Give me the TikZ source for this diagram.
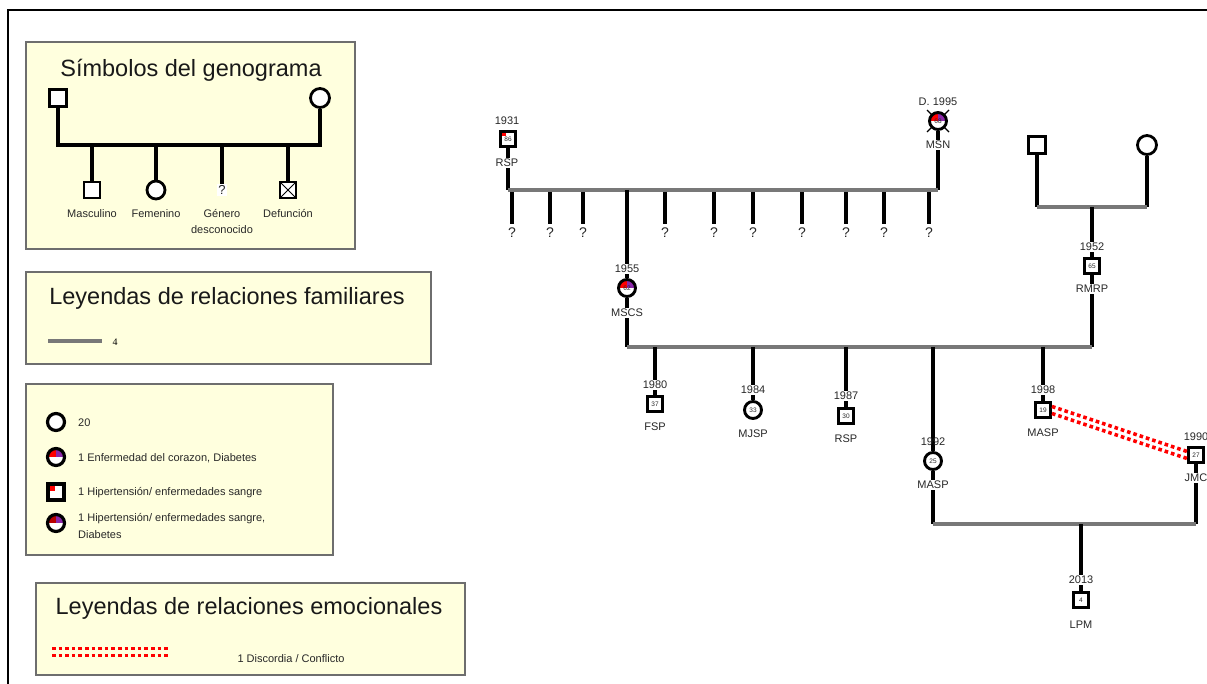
\documentclass[tikz,border=0pt]{standalone}
\usepackage{fontspec}
\setmainfont{Liberation Sans}
\newfontfamily\serifx{Liberation Serif}
\usetikzlibrary{backgrounds}
\definecolor{legbg}{RGB}{255,255,222}
\definecolor{legbd}{RGB}{110,110,110}
\definecolor{hgray}{RGB}{120,120,120}
\definecolor{dpurple}{RGB}{140,40,170}
\definecolor{dred}{RGB}{185,0,0}
\definecolor{txt}{RGB}{40,40,40}
\newcommand\myfs[1]{\fontsize{#1}{#1}\selectfont}
\begin{document}
\begin{tikzpicture}[x=1pt,y=-1pt,
  lbox/.style={draw=legbd, fill=legbg, line width=1.4},
  ttl/.style={font=\myfs{23.5}, inner sep=0, text=black!90},
  lbl/.style={font=\myfs{11}, inner sep=1, text=txt},
  yl/.style={font=\myfs{11}, inner sep=1, fill=white, text=txt},
  kline/.style={line width=3.2, black},
  hline/.style={line width=3.4, hgray},
  pm/.style={draw, line width=2.9, fill=white, minimum size=15, inner sep=0, font=\myfs{6.5}, text=txt},
  pf/.style={pm, circle, minimum size=17},
  lm/.style={draw, line width=2.8, fill=white, minimum size=17, inner sep=0},
  lf/.style={lm, circle, minimum size=19},
  heartdia/.style={path picture={
     \fill[red] (path picture bounding box.north west) rectangle (path picture bounding box.center);
     \fill[dpurple] (path picture bounding box.north) rectangle (path picture bounding box.east);}},
  hyperdia/.style={path picture={
     \fill[dred] (path picture bounding box.north west) rectangle (path picture bounding box.center);
     \fill[dpurple] (path picture bounding box.north) rectangle (path picture bounding box.east);}},
  hyper/.style={path picture={
     \fill[red] (path picture bounding box.north west) rectangle ([xshift=7pt,yshift=-7pt]path picture bounding box.north west);}},
  hyperS/.style={path picture={
     \fill[red] (path picture bounding box.north west) rectangle ([xshift=5pt,yshift=-5pt]path picture bounding box.north west);}},
  conflict/.style={red, line width=3.6, dash pattern=on 3.6pt off 3pt},
]
\useasboundingbox (0,0) rectangle (1207,684);

% ---------- boxes (background) ----------
\begin{scope}[on background layer]
  \fill[white] (0,0) rectangle (1207,684);
  \draw[line width=1.4] (8,690) -- (8,10) -- (1215,10);
  \draw[lbox] (26,42) rectangle (355,249);
  \draw[lbox] (26,272) rectangle (431,364);
  \draw[lbox] (26,384) rectangle (333,555);
  \draw[lbox] (36,583) rectangle (465,675);
\end{scope}

% ---------- legend 1 ----------
\node[ttl] (t1) at (191,70) {Símbolos del genograma};
\node[lm] (s1) at (58,98) {};
\node[lf] (s2) at (320,98) {};
\coordinate (sm) at (189,145);
\node[lm, minimum size=16] (c1) at (92,190) {};
\node[lf, minimum size=18] (c2) at (156,190) {};
\node[font=\myfs{13}, fill=white, inner sep=1.5, text=txt] (c3) at (222,190) {?};
\node[lm, minimum size=16, path picture={
  \draw[line width=1] (path picture bounding box.north west) -- (path picture bounding box.south east);
  \draw[line width=1] (path picture bounding box.north east) -- (path picture bounding box.south west);}] (c4) at (288,190) {};
\node[lbl] (c1l) at (92,214) {Masculino};
\node[lbl] (c2l) at (156,214) {Femenino};
\node[lbl, align=center, font=\fontsize{11}{16}\selectfont] (c3l) at (222,222) {Género\\desconocido};
\node[lbl] (c4l) at (288,214) {Defunción};

% ---------- legend 2 ----------
\node[ttl] (t2) at (227,298) {Leyendas de relaciones familiares};
\coordinate (fl1) at (48,341);
\coordinate (fl2) at (102,341);
\node[font=\serifx\myfs{10}, inner sep=1] (fl) at (115,342) {4};

% ---------- legend 3 ----------
\node[lm, circle, minimum size=17, line width=3.2] (i1) at (56,422) {};
\node[lbl, anchor=west] (i1l) at (77,423) {20};
\node[lm, circle, minimum size=17, line width=3.2, heartdia] (i2) at (56,457) {};
\node[lbl, anchor=west] (i2l) at (77,458) {1 Enfermedad del corazon, Diabetes};
\node[lm, minimum size=16, line width=3.2, hyper] (i3) at (56,492) {};
\node[lbl, anchor=west] (i3l) at (77,493) {1 Hipertensión/ enfermedades sangre};
\node[lm, circle, minimum size=17, line width=3.2, hyperdia] (i4) at (56,523) {};
\node[lbl, anchor=west, align=left, font=\fontsize{11}{17}\selectfont] (i4l) at (77,526) {1 Hipertensión/ enfermedades sangre,\\Diabetes};

% ---------- legend 4 ----------
\node[ttl] (t4) at (249,608) {Leyendas de relaciones emocionales};
\coordinate (el1) at (52,648);
\coordinate (el2) at (170,648);
\node[lbl, font=\myfs{11}] (el) at (291,659) {1 Discordia / Conflicto};

% ---------- genogram: persons ----------
\node[pm, hyperS] (rsp1) at (508,139) {86};
\node[yl] (rsp1y) at (507,121) {1931};
\node[yl] (rsp1n) at (507,163) {RSP};

\node[pf, heartdia] (msn) at (938,121) {68};
\node[yl] (msny) at (938,102) {D. 1995};
\node[yl] (msnn) at (938,145) {MSN};

\coordinate (m1) at (723,190);
\foreach \i/\x in {1/512,2/550,3/583,4/665,5/714,6/753,7/802,8/846,9/884,10/929}{
  \node[font=\myfs{14}, inner sep=1, fill=white, text=txt] (u\i) at (\x,233) {?};
}

\node[pf, heartdia] (mscs) at (627,288) {62};
\node[yl] (mscsy) at (627,269) {1955};
\node[yl] (mscsn) at (627,313) {MSCS};

\node[lm] (gf) at (1037,145) {};
\node[lf] (gm) at (1147,145) {};
\coordinate (m3) at (1092,207);

\node[pm] (rmrp) at (1092,266) {65};
\node[yl] (rmrpy) at (1092,247) {1952};
\node[yl] (rmrpn) at (1092,289) {RMRP};

\coordinate (m2) at (860,347);

\node[pm] (fsp) at (655,404) {37};
\node[yl] (fspy) at (655,385) {1980};
\node[yl] (fspn) at (655,427) {FSP};

\node[pf] (mjsp) at (753,410) {33};
\node[yl] (mjspy) at (753,390) {1984};
\node[yl] (mjspn) at (753,434) {MJSP};

\node[pm] (rsp2) at (846,416) {30};
\node[yl] (rsp2y) at (846,396) {1987};
\node[yl] (rsp2n) at (846,439) {RSP};

\node[pf] (masp1) at (933,461) {25};
\node[lbl] (masp1y) at (933,442) {1992};
\node[yl] (masp1n) at (933,485) {MASP};

\node[pm] (masp2) at (1043,410) {19};
\node[yl] (masp2y) at (1043,390) {1998};
\node[yl] (masp2n) at (1043,433) {MASP};

\node[pm] (jmc) at (1196,455) {27};
\node[yl] (jmcy) at (1196,437) {1990};
\node[yl] (jmcn) at (1196,478) {JMC};

\coordinate (m4) at (1065,524);

\node[pm] (lpm) at (1081,600) {4};
\node[yl] (lpmy) at (1081,580) {2013};
\node[yl] (lpmn) at (1081,625) {LPM};

% ---------- lines (behind nodes) ----------
\begin{scope}[on background layer]
  % legend 1
  \draw[kline] (s1) -- (s1|-sm) -- (s2|-sm) -- (s2);
  \foreach \c in {c1,c2,c3,c4} \draw[kline] (\c|-sm) -- (\c);
  % legend 2 and 4
  \draw[hline] (fl1) -- (fl2);
  \draw[conflict] ([yshift=-0.5pt]el1) -- ([yshift=-0.5pt]el2);
  \draw[conflict] ([yshift=-7.5pt]el1) -- ([yshift=-7.5pt]el2);
  % deceased cross
  \draw[line width=1.1, black] ([shift={(-11pt,11pt)}]msn.center) -- ([shift={(11pt,-11pt)}]msn.center);
  \draw[line width=1.1, black] ([shift={(11pt,11pt)}]msn.center) -- ([shift={(-11pt,-11pt)}]msn.center);
  % couple 1
  \draw[kline] (rsp1) -- (rsp1|-m1);
  \draw[kline] (msn) -- (msn|-m1);
  \draw[hline] (rsp1|-m1) -- (msn|-m1);
  \foreach \i in {1,...,10} \draw[kline] ([yshift=-2pt]u\i|-m1) -- ([yshift=3pt]u\i.north);
  \draw[kline] (mscs|-m1) -- (mscs);
  % couple 0
  \draw[kline] (gf) -- (gf|-m3);
  \draw[kline] (gm) -- (gm|-m3);
  \draw[hline] (gf|-m3) -- (gm|-m3);
  \draw[kline] (m3) -- (rmrp);
  % couple 2
  \draw[kline] (mscs) -- (mscs|-m2);
  \draw[kline] (rmrp) -- (rmrp|-m2);
  \draw[hline] (mscs|-m2) -- (rmrp|-m2);
  \foreach \p in {fsp,mjsp,rsp2,masp1,masp2} \draw[kline] (\p|-m2) -- (\p);
  % couple 3
  \draw[kline] (masp1) -- (masp1|-m4);
  \draw[kline] (jmc) -- (jmc|-m4);
  \draw[hline] (masp1|-m4) -- (jmc|-m4);
  \draw[kline] (lpm|-m4) -- (lpm);
\end{scope}

% conflict between MASP (1998) and JMC
\draw[conflict] ([yshift=3.5pt]masp2.east) -- ([yshift=3.5pt]jmc.west);
\draw[conflict] ([yshift=-3.5pt]masp2.east) -- ([yshift=-3.5pt]jmc.west);
\end{tikzpicture}
\end{document}
